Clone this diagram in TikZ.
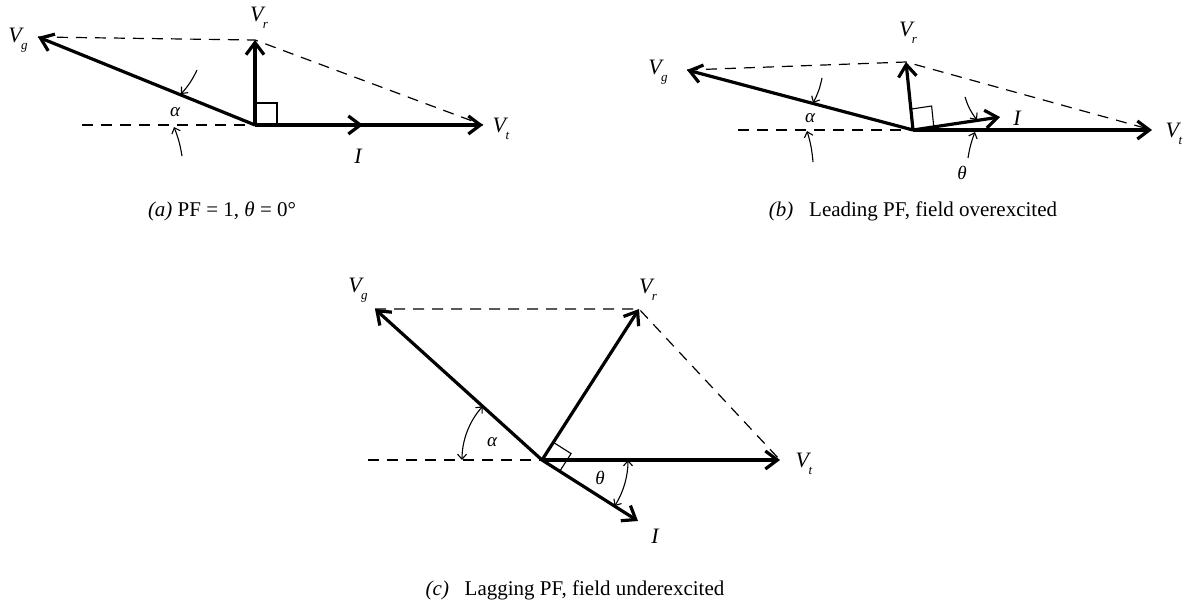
\documentclass[tikz,border=0pt]{standalone}
\usepackage{fontspec}
\setmainfont{Liberation Serif}
\usetikzlibrary{arrows.meta,calc}
\newcommand\vlab[1]{\textit{V}\kern-0.5pt\raisebox{-7pt}{\fontsize{13}{13}\selectfont\textit{#1}}}
\begin{document}
\begin{tikzpicture}[x=1pt,y=-1pt,
  vec/.style={line width=3.2pt,-{Straight Barb[length=12pt,width=18pt]}},
  dsh/.style={line width=1.2pt,dash pattern=on 11pt off 8pt},
  thinln/.style={line width=1.1pt},
  ptr/.style={line width=1.1pt,-{Straight Barb[length=5pt,width=9pt]}},
  dptr/.style={line width=1.1pt,{Straight Barb[length=5pt,width=9pt]}-{Straight Barb[length=5pt,width=9pt]}},
  lab/.style={inner sep=0pt,font=\fontsize{22}{22}\selectfont\itshape},
  glab/.style={inner sep=0pt,font=\fontsize{19}{19}\selectfont\itshape},
  capt/.style={inner sep=0pt,font=\fontsize{21}{21}\selectfont}]
\useasboundingbox (0,0) rectangle (1196,613);

% ---------- (a) ----------
\coordinate (Oa) at (255,125);
\coordinate (Vga) at (38,37);
\coordinate (Vra) at (255,40);
\coordinate (Vta) at (483,125);
\coordinate (Ia) at (363,125);
\coordinate (Ha) at (82,125);
\draw[dsh] (Ha) -- (Oa);
\draw[dsh] (Vga) -- (Vra) -- (Vta);
\draw[vec] (Oa) -- (Vta);
\draw[vec] (Oa) -- (Ia);
\draw[vec] (Oa) -- (Vga);
\draw[vec] (Oa) -- (Vra);
\coordinate (Ba1) at ($(Oa)!22pt!(Vra)$);
\coordinate (Ba2) at ($(Oa)!22pt!(Vta)$);
\draw[thinln] (Ba1) -- ($(Ba1)+(Ba2)-(Oa)$) -- (Ba2);
\coordinate (PAa1) at (197,70);
\coordinate (PAa2) at (181,94);
\coordinate (PAa3) at (182,156);
\coordinate (PAa4) at (174,127);
\draw[ptr] (PAa1) to[bend left=8] (PAa2);
\draw[ptr] (PAa3) to[bend right=6] (PAa4);
\node[lab] (LVga) at (18,40) {\vlab{g}};
\node[lab] (LVra) at (259,18) {\vlab{r}};
\node[lab] (LVta) at (501,129) {\vlab{t}};
\node[lab] (LIa) at (358,156) {I};
\node[glab] (LAa) at (175,112) {α};
\node[capt] (Ca) at (222,211) {\textit{(a)} PF = 1, \textit{θ} = 0°};

% ---------- (b) ----------
\coordinate (Ob) at (913,130);
\coordinate (Vgb) at (687,70);
\coordinate (Vrb) at (906,62);
\coordinate (Vtb) at (1152,130);
\coordinate (Ib) at (1000,117);
\coordinate (Hb) at (738,130);
\draw[dsh] (Hb) -- (Ob);
\draw[dsh] (Vgb) -- (Vrb) -- (Vtb);
\draw[vec] (Ob) -- (Vtb);
\draw[vec] (Ob) -- (Ib);
\draw[vec] (Ob) -- (Vgb);
\draw[vec] (Ob) -- (Vrb);
\coordinate (Bb1) at ($(Ob)!21pt!(Vrb)$);
\coordinate (Bb2) at ($(Ob)!21pt!(Ib)$);
\draw[thinln] (Bb1) -- ($(Bb1)+(Bb2)-(Ob)$) -- (Bb2);
\coordinate (PAb1) at (822,78);
\coordinate (PAb2) at (813,103);
\coordinate (PAb3) at (813,162);
\coordinate (PAb4) at (807,131);
\draw[ptr] (PAb1) to[bend left=8] (PAb2);
\draw[ptr] (PAb3) to[bend right=6] (PAb4);
\coordinate (PTb1) at (965,97);
\coordinate (PTb2) at (977,120);
\coordinate (PTb3) at (968,158);
\coordinate (PTb4) at (975,132);
\draw[ptr] (PTb1) to[bend right=10] (PTb2);
\draw[ptr] (PTb3) to[bend left=6] (PTb4);
\node[lab] (LVgb) at (658,72) {\vlab{g}};
\node[lab] (LVrb) at (908,33) {\vlab{r}};
\node[lab] (LVtb) at (1174,134) {\vlab{t}};
\node[lab] (LIb) at (1017,118) {I};
\node[glab] (LAb) at (810,118) {α};
\node[glab] (LTb) at (962,173) {θ};
\node[capt] (Cb) at (913,211) {\textit{(b)}\ \ \ Leading PF, field overexcited};

% ---------- (c) ----------
\coordinate (Oc) at (542,460);
\coordinate (Vgc) at (375,309);
\coordinate (Vrc) at (639,309);
\coordinate (Vtc) at (780,460);
\coordinate (Ic) at (638,521);
\coordinate (Hc) at (368,460);
\draw[dsh] (Hc) -- (Oc);
\draw[dsh] (Vgc) -- (Vrc) -- (Vtc);
\draw[vec] (Oc) -- (Vtc);
\draw[vec] (Oc) -- (Ic);
\draw[vec] (Oc) -- (Vgc);
\draw[vec] (Oc) -- (Vrc);
\coordinate (Bc1) at ($(Oc)!21pt!(Vrc)$);
\coordinate (Bc2) at ($(Oc)!21pt!(Ic)$);
\draw[thinln] (Bc1) -- ($(Bc1)+(Bc2)-(Oc)$) -- (Bc2);
\draw[dptr] (Oc) ++(180:80) arc[start angle=180, end angle=222.1, radius=80];
\draw[dptr] (Oc) ++(0:86) arc[start angle=0, end angle=32.4, radius=86];
\node[lab] (LVgc) at (358,290) {\vlab{g}};
\node[lab] (LVrc) at (648,290) {\vlab{r}};
\node[lab] (LVtc) at (804,464) {\vlab{t}};
\node[lab] (LIc) at (655,536) {I};
\node[glab] (LAc) at (492,442) {α};
\node[glab] (LTc) at (600,478) {θ};
\node[capt] (Cc) at (575,590) {\textit{(c)}\ \ \ Lagging PF, field underexcited};
\end{tikzpicture}
\end{document}
